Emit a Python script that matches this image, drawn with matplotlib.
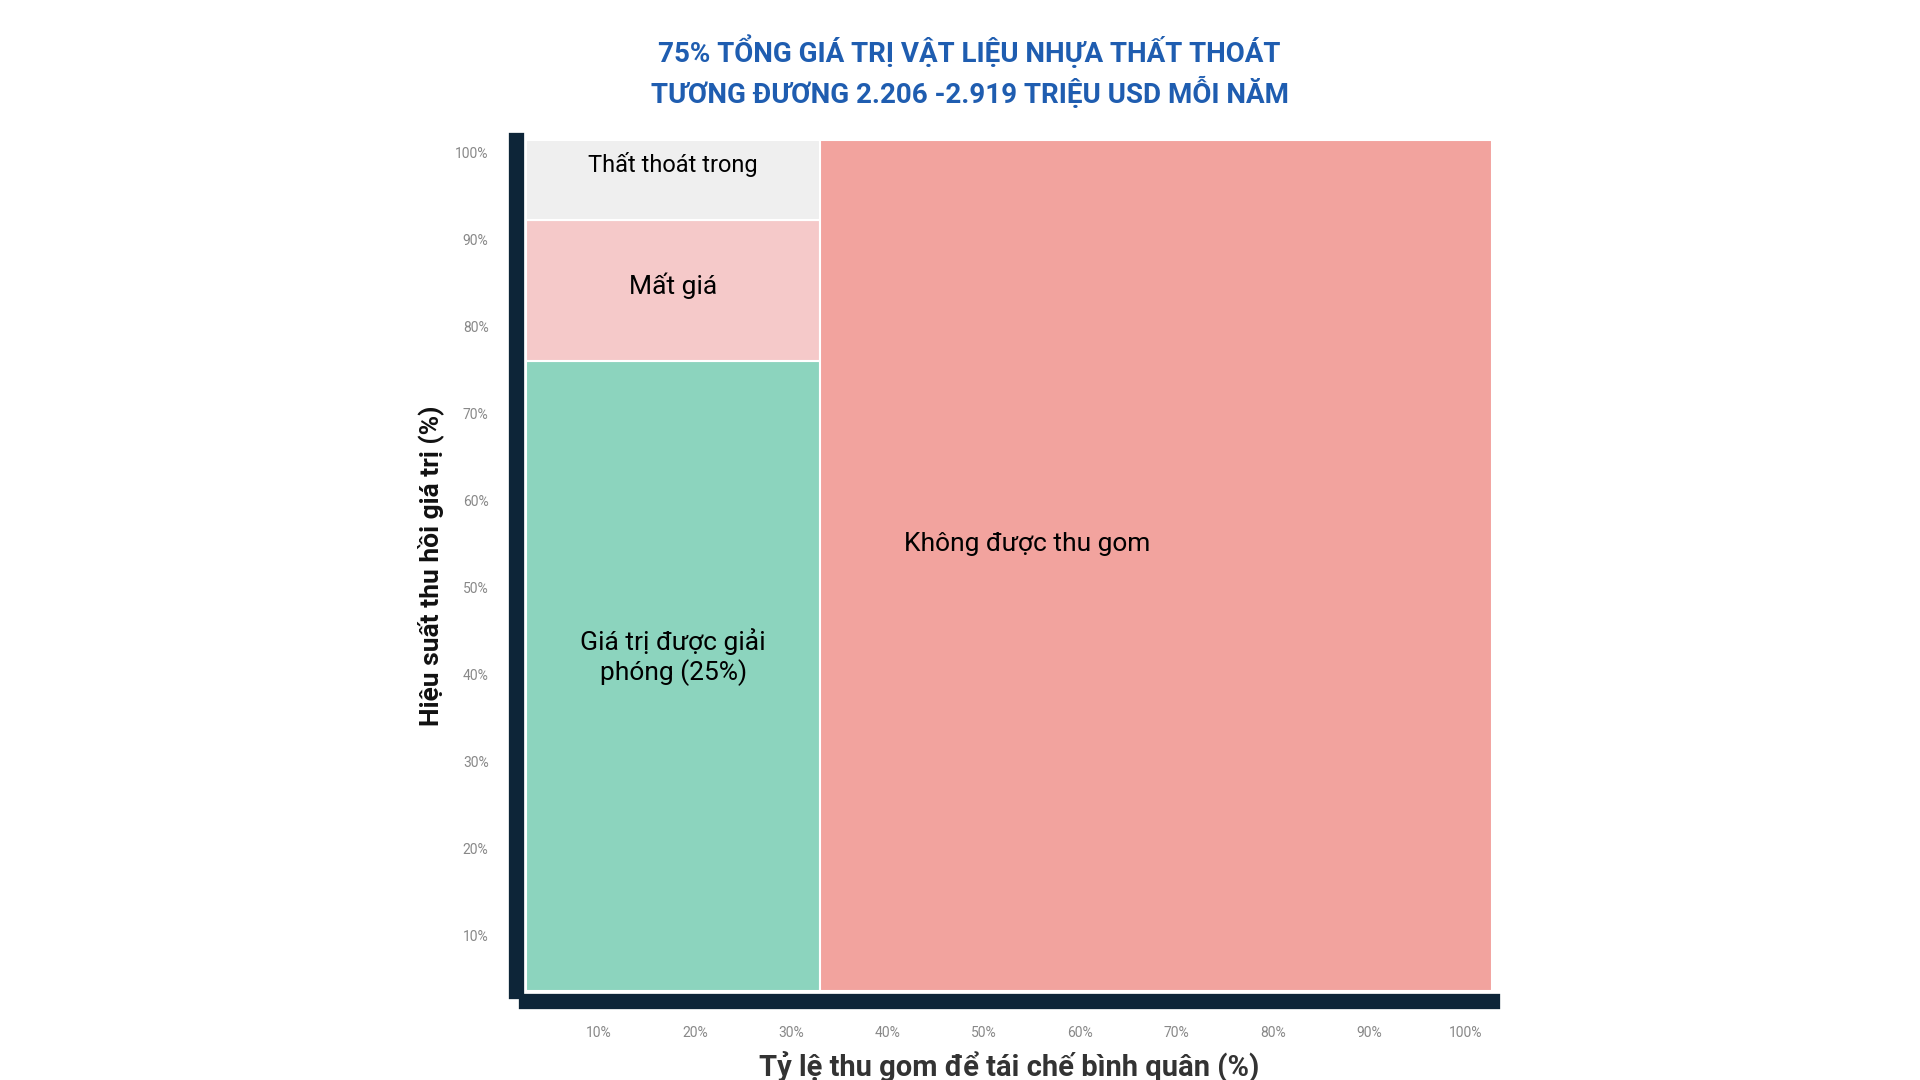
import matplotlib
matplotlib.use('Agg')
import matplotlib.pyplot as plt

plt.rcParams['font.family'] = ['Roboto', 'DejaVu Sans']

# Dữ liệu (%)
x_lo, x_hi = 2.5, 102.7
y_lo, y_hi = 3.6, 101.4
thu_gom = 33.0          # tỷ lệ thu gom
giai_phong = 76.0       # giá trị được giải phóng
mat_gia = 92.3          # mất giá tới mức này
nhan = ['Giá trị được giải\nphóng (25%)', 'Mất giá', 'Thất thoát trong', 'Không được thu gom']
mau = ['#8cd4be', '#f5c9c9', '#efefef', '#f2a39e']
ticks = [10, 20, 30, 40, 50, 60, 70, 80, 90, 100]

fig = plt.figure(figsize=(19.2, 10.8), dpi=100)
ax = fig.add_axes([0.274, 0.082, 0.503, 0.788])

w = thu_gom - x_lo
ax.bar(x_lo, giai_phong - y_lo, width=w, bottom=y_lo, align='edge', color=mau[0], edgecolor='white', linewidth=1.5)
ax.bar(x_lo, mat_gia - giai_phong, width=w, bottom=giai_phong, align='edge', color=mau[1], edgecolor='white', linewidth=1.5)
ax.bar(x_lo, y_hi - mat_gia, width=w, bottom=mat_gia, align='edge', color=mau[2], edgecolor='white', linewidth=1.5)
ax.bar(thu_gom, y_hi - y_lo, width=x_hi - thu_gom, bottom=y_lo, align='edge', color=mau[3], edgecolor='white', linewidth=1.5)

cx = (x_lo + thu_gom) / 2
ax.text(cx, 42, nhan[0], ha='center', va='center', fontsize=19)
ax.text(cx, (giai_phong + mat_gia) / 2 + 0.5, nhan[1], ha='center', va='center', fontsize=19)
ax.text(cx, 98.6, nhan[2], ha='center', va='center', fontsize=17)
ax.text(54.5, 55, nhan[3], ha='center', va='center', fontsize=19)

ax.set_xlim(x_lo, x_hi)
ax.set_ylim(y_lo, y_hi)
ax.set_xticks(ticks)
ax.set_xticklabels([f'{t}%' for t in ticks])
ax.set_yticks(ticks)
ax.set_yticklabels([f'{t}%' for t in ticks])
ax.tick_params(length=0, labelsize=10, labelcolor='#888888')
ax.tick_params(axis='x', pad=18)
ax.tick_params(axis='y', pad=20)
for s in ['top', 'right']:
    ax.spines[s].set_visible(False)
for s in ['left', 'bottom']:
    ax.spines[s].set_color('#0d2538')
    ax.spines[s].set_linewidth(11)
    ax.spines[s].set_position(('outward', 7))
    ax.spines[s].set_capstyle('projecting')

ax.set_xlabel('Tỷ lệ thu gom để tái chế bình quân (%)', fontsize=21, fontweight='bold', color='#333333', labelpad=8)
ax.set_ylabel('Hiệu suất thu hồi giá trị (%)', fontsize=19, fontweight='bold', color='#111111', labelpad=8)

fig.text(0.505, 0.953, '75% TỔNG GIÁ TRỊ VẬT LIỆU NHỰA THẤT THOÁT', ha='center', va='center',
         fontsize=20, fontweight='bold', color='#1f5db0')
fig.text(0.505, 0.914, 'TƯƠNG ĐƯƠNG 2.206 -2.919 TRIỆU USD MỖI NĂM', ha='center', va='center',
         fontsize=20, fontweight='bold', color='#1f5db0')

fig.savefig('out.png', dpi=100)
